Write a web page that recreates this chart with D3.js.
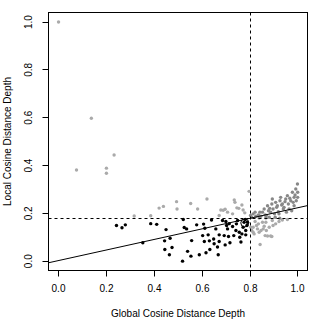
<!DOCTYPE html>
<html>
<head>
<meta charset="utf-8">
<script src="https://cdn.jsdelivr.net/npm/d3@7"></script>
<style>
  body { margin: 0; background: #fff; }
  text { font-family: "Liberation Sans", Arial, sans-serif; }
</style>
</head>
<body>
<script>
const width = 332;
const height = 332;

// points below the threshold on both depths (black)
const blackX = [0.242, 0.265, 0.279, 0.385, 0.41, 0.352, 0.444, 0.443,
  0.449, 0.466, 0.474, 0.463, 0.521, 0.525, 0.535, 0.518, 0.539, 0.553, 0.556, 0.577,
  0.588, 0.606, 0.611, 0.616, 0.602, 0.609, 0.625, 0.63, 0.632, 0.639, 0.65, 0.648,
  0.657, 0.664, 0.667, 0.671, 0.671, 0.685, 0.692, 0.696, 0.699, 0.702, 0.706, 0.71,
  0.713, 0.716, 0.727, 0.732, 0.741, 0.743, 0.748, 0.755, 0.757, 0.762, 0.766, 0.771,
  0.775, 0.78, 0.782, 0.782, 0.787, 0.789];
const blackY = [0.149, 0.14, 0.152, 0.157, 0.154, 0.077, 0.049, 0.085,
  0.132, 0.096, 0.057, 0.027, 0.174, 0.141, 0.135, 0.0, 0.041, 0.021, 0.086, 0.152,
  0.027, 0.155, 0.138, 0.035, 0.107, 0.082, 0.11, 0.085, 0.049, 0.172, 0.073, 0.093,
  0.135, 0.059, 0.027, 0.082, 0.11, 0.17, 0.107, 0.068, 0.166, 0.149, 0.135, 0.103,
  0.157, 0.077, 0.145, 0.107, 0.128, 0.156, 0.17, 0.121, 0.1, 0.08, 0.114, 0.142,
  0.163, 0.174, 0.128, 0.11, 0.149, 0.163];

// light grey points (one depth above its threshold)
const lightX = [0.0, 0.137, 0.075, 0.2, 0.2, 0.232, 0.316, 0.385, 0.42, 0.438,
  0.493, 0.495, 0.552, 0.581, 0.62, 0.678, 0.688, 0.696, 0.706, 0.734, 0.737, 0.745,
  0.753, 0.766, 0.771, 0.778, 0.796, 0.671, 0.727,
  0.803, 0.807, 0.813, 0.821, 0.827, 0.835, 0.842, 0.846, 0.852, 0.859, 0.863, 0.868,
  0.873, 0.886, 0.891, 0.896, 0.88, 0.907, 0.921, 0.935, 0.813, 0.831, 0.817, 0.838,
  0.855, 0.866, 0.893, 0.956];
const lightY = [1.0, 0.598, 0.381, 0.389, 0.368, 0.444, 0.189, 0.19, 0.222, 0.229,
  0.249, 0.218, 0.241, 0.218, 0.26, 0.214, 0.213, 0.217, 0.205, 0.256, 0.246, 0.223,
  0.221, 0.235, 0.214, 0.202, 0.292, 0.191, 0.198,
  0.142, 0.128, 0.121, 0.166, 0.149, 0.156, 0.07, 0.128, 0.163, 0.146, 0.107, 0.128,
  0.105, 0.105, 0.103, 0.149, 0.142, 0.156, 0.166, 0.172, 0.142, 0.135, 0.114, 0.121,
  0.135, 0.163, 0.17, 0.174];

// dark grey points (both depths above their thresholds)
const darkX = [0.802, 0.807, 0.813, 0.821, 0.824, 0.835, 0.841, 0.845, 0.852, 0.859,
  0.863, 0.868, 0.873, 0.877, 0.882, 0.886, 0.891, 0.893, 0.896, 0.902, 0.907, 0.911,
  0.914, 0.918, 0.921, 0.925, 0.928, 0.932, 0.935, 0.939, 0.942, 0.946, 0.949, 0.952,
  0.956, 0.96, 0.963, 0.966, 0.97, 0.974, 0.977, 0.98, 0.984, 0.984, 0.988, 0.991,
  0.993, 0.998, 0.999, 0.999, 0.838, 0.866, 0.905, 0.88, 0.924];
const darkY = [0.191, 0.184, 0.198, 0.205, 0.188, 0.193, 0.205, 0.188, 0.205, 0.218,
  0.193, 0.191, 0.232, 0.211, 0.221, 0.205, 0.239, 0.26, 0.218, 0.198, 0.246, 0.225,
  0.232, 0.207, 0.198, 0.253, 0.267, 0.235, 0.239, 0.218, 0.225, 0.249, 0.26, 0.205,
  0.274, 0.239, 0.218, 0.263, 0.253, 0.211, 0.288, 0.246, 0.267, 0.232, 0.277, 0.302,
  0.253, 0.323, 0.288, 0.267, 0.181, 0.181, 0.184, 0.184, 0.18];

// highlighted point, cutoffs and fitted line
const ringX = 0.778, ringY = 0.160;
const cutX = 0.8, cutY = 0.177;
const fitIntercept = 0.0026, fitSlope = 0.221;

const xTicks = [0, 0.2, 0.4, 0.6, 0.8, 1.0];
const yTicks = [0, 0.2, 0.4, 0.6, 0.8, 1.0];

const margin = {left: 48.5, top: 12.5, right: 24.5, bottom: 61.5};
const innerW = width - margin.left - margin.right;
const innerH = height - margin.top - margin.bottom;

const x = d3.scaleLinear().domain([-0.042, 1.04]).range([margin.left, margin.left + innerW]);
const y = d3.scaleLinear().domain([-0.039, 1.04]).range([margin.top + innerH, margin.top]);

// snap to pixel centres so 1px lines stay crisp
const crisp = v => Math.floor(v) + 0.5;

const svg = d3.select('body').append('svg')
    .attr("width", width)
    .attr("height", height);

const plot = svg.append("g");

function drawPoints(xs, ys, color) {
    plot.append("g")
        .selectAll("circle")
        .data(xs.map((v, i) => [v, ys[i]]))
        .enter()
        .append("circle")
        .attr("cx", d => x(d[0]))
        .attr("cy", d => y(d[1]))
        .attr("r", 1.7)
        .style("fill", color);
}

drawPoints(lightX, lightY, "#aaaaaa");
drawPoints(darkX, darkY, "#888888");
drawPoints(blackX, blackY, "#000");

plot.append("circle")
    .attr("cx", x(ringX))
    .attr("cy", y(ringY))
    .attr("r", 4)
    .style("fill", "none")
    .style("stroke", "#000")
    .style("stroke-width", 1);

// cutoff lines
plot.append("line")
    .attr("x1", crisp(x(cutX))).attr("x2", crisp(x(cutX)))
    .attr("y1", margin.top).attr("y2", margin.top + innerH)
    .style("stroke", "#000")
    .style("stroke-dasharray", "3,3");
plot.append("line")
    .attr("x1", margin.left).attr("x2", margin.left + innerW)
    .attr("y1", crisp(y(cutY))).attr("y2", crisp(y(cutY)))
    .style("stroke", "#000")
    .style("stroke-dasharray", "3,3");

// regression line
const xd = x.domain();
plot.append("line")
    .attr("x1", x(xd[0])).attr("y1", y(fitIntercept + fitSlope * xd[0]))
    .attr("x2", x(xd[1])).attr("y2", y(fitIntercept + fitSlope * xd[1]))
    .style("stroke", "#000");

// box
svg.append("rect")
    .attr("x", margin.left)
    .attr("y", margin.top)
    .attr("width", innerW)
    .attr("height", innerH)
    .style("fill", "none")
    .style("stroke", "#000");

// axes
const xAxis = svg.append("g")
    .attr("transform", `translate(0,${margin.top + innerH})`)
    .call(d3.axisBottom(x).tickValues(xTicks).tickFormat(d3.format(".1f")).tickSize(6).tickPadding(8));
xAxis.select(".domain").remove();
xAxis.selectAll(".tick").attr("transform", d => `translate(${crisp(x(d))},0)`);
xAxis.selectAll("text").style("font-size", "10px").attr("fill", "#000");

const yAxis = svg.append("g")
    .attr("transform", `translate(${margin.left},0)`)
    .call(d3.axisLeft(y).tickValues(yTicks).tickFormat(d3.format(".1f")).tickSize(6));
yAxis.select(".domain").remove();
yAxis.selectAll(".tick").attr("transform", null);
yAxis.selectAll(".tick line").attr("y1", d => crisp(y(d))).attr("y2", d => crisp(y(d)));
yAxis.selectAll("text")
    .attr("transform", "rotate(-90)")
    .attr("x", d => -y(d))
    .attr("y", -17)
    .attr("dy", "0")
    .style("text-anchor", "middle")
    .style("font-size", "10px")
    .attr("fill", "#000");

svg.append("text")
    .attr("x", margin.left + innerW / 2)
    .attr("y", 317)
    .attr("text-anchor", "middle")
    .style("font-size", "10px")
    .text("Global Cosine Distance Depth");

svg.append("text")
    .attr("transform", `translate(11,${margin.top + innerH / 2}) rotate(-90)`)
    .attr("text-anchor", "middle")
    .style("font-size", "10px")
    .text("Local Cosine Distance Depth");
</script>
</body>
</html>
